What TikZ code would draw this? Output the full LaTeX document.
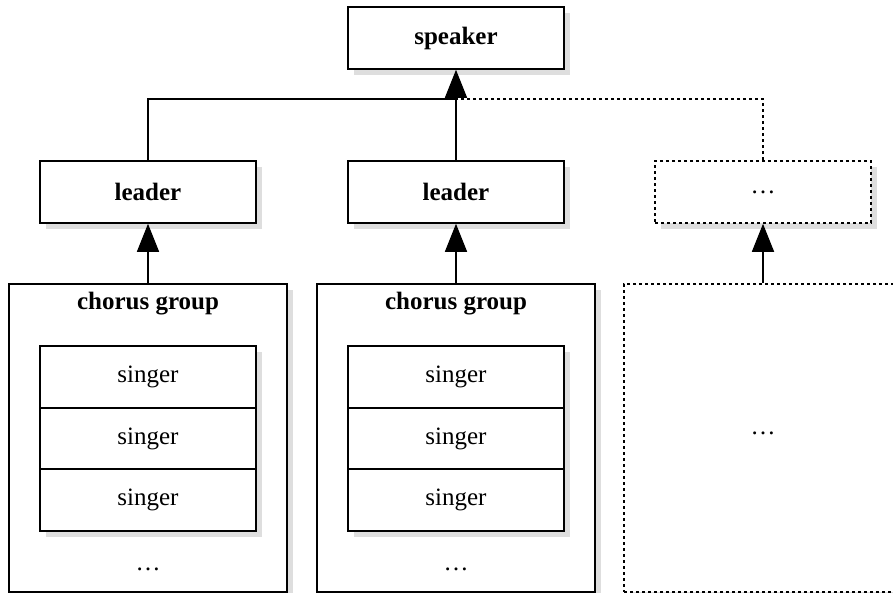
\documentclass[tikz,border=0pt]{standalone}
\usepackage{fontspec}
\setmainfont{Liberation Serif}
\usetikzlibrary{arrows.meta,shadows}
\tikzset{
  box/.style={draw,line width=1.6pt,fill=white,inner sep=0pt,
    minimum width=216pt,minimum height=62pt,
    drop shadow={shadow xshift=6pt,shadow yshift=-6pt,fill=black!13,opacity=1}},
  grpbox/.style={box,minimum width=278pt,minimum height=308pt},
  dotbox/.style={dash pattern=on 3pt off 3pt},
  link/.style={line width=1.6pt}
}
\begin{document}
\begin{tikzpicture}[x=1pt,y=-1pt,font=\fontsize{25}{30}\selectfont,
  >={Triangle[length=28pt,width=22pt]}]
\useasboundingbox (0,0) rectangle (893,592);
\clip (0,0) rectangle (893,592);
% top level
\node[box,font=\fontsize{25}{30}\selectfont\bfseries] (spk) at (456,38) {speaker};
\node[box,font=\fontsize{25}{30}\selectfont\bfseries] (ld1) at (148,192) {leader};
\node[box,font=\fontsize{25}{30}\selectfont\bfseries] (ld2) at (456,192) {leader};
\node[box,dotbox] (ld3) at (763,192) {\ldots};
% groups
\foreach \c/\n in {148/1,456/2}{
  \node[grpbox] (grp\n) at (\c,438) {};
  \node[font=\fontsize{25}{30}\selectfont\bfseries] (ttl\n) at (\c,304) {chorus group};
  \foreach \y/\m in {377/a,438.5/b,500/c}
    \node[box,minimum height=61.5pt] (sg\n\m) at (\c,\y) {singer};
  \node (dd\n) at (\c,569) {\ldots};
  \draw[link,->] (grp\n) -- (ld\n);
}
\node[grpbox,dotbox] (grp3) at (763,438) {};
\node (dd3) at (763,433) {\ldots};
\draw[link,->] (grp3) -- (ld3);
% to the speaker
\coordinate (jn) at (456,99);
\draw[link] (ld1) |- (jn);
\draw[link,dotbox] (ld3) |- (jn);
\draw[link,->] (ld2) -- (spk);
\end{tikzpicture}
\end{document}
